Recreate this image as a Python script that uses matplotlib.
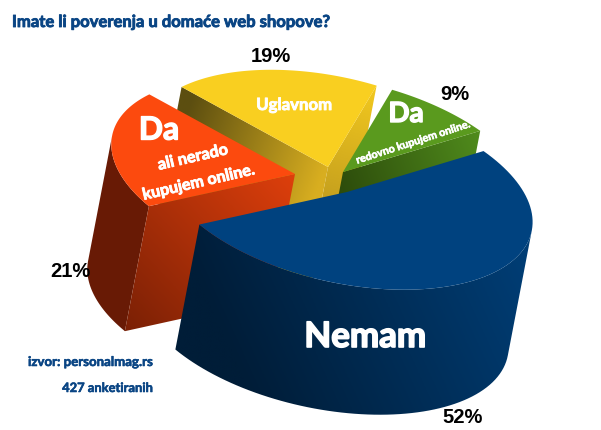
import numpy as np
import matplotlib
matplotlib.use("Agg")
import matplotlib.pyplot as plt
import matplotlib.patheffects as pe
from matplotlib.colors import LinearSegmentedColormap
from matplotlib.patches import Polygon

title = "Imate li poverenja u domaće web shopove?"
slice_names = ["Da, redovno", "Uglavnom", "Da, ali nerado", "Nemam"]
slice_values = [9, 19, 21, 52]
source_lines = ["izvor: personalmag.rs", "427 anketiranih"]

NARROW = ["Lato", "DejaVu Sans"]
W, H = 601, 431
fig = plt.figure(figsize=(W / 100, H / 100), dpi=100)
ax = fig.add_axes([0, 0, 1, 1])
ax.set_xlim(0, W)
ax.set_ylim(H, 0)
ax.axis("off")

A = np.array([140.0, -42.0])
B = np.array([-129.0, -91.0])
D = np.array([-24.0, 125.0])
cum = np.concatenate([[0], np.cumsum(slice_values)]) / sum(slice_values) * 2 * np.pi


def rim(apex, r, t0, t1, n=90):
    t = np.linspace(t0, t1, n)
    return np.array(apex) + r * (np.outer(np.cos(t), A) + np.outer(np.sin(t), B))


def grad(poly, p0, p1, c0, c1, z):
    poly = np.asarray(poly)
    x0, y0 = poly.min(axis=0) - 2
    x1, y1 = poly.max(axis=0) + 2
    xs, ys = np.meshgrid(np.linspace(x0, x1, 200), np.linspace(y0, y1, 200))
    p0 = np.array(p0, float)
    d = np.array(p1, float) - p0
    g = ((xs - p0[0]) * d[0] + (ys - p0[1]) * d[1]) / (d @ d)
    cmap = LinearSegmentedColormap.from_list("g", [c0, c1])
    im = ax.imshow(np.clip(g, 0, 1), extent=(x0, x1, y1, y0), cmap=cmap, vmin=0, vmax=1,
                   zorder=z, aspect="auto", interpolation="bilinear")
    clip = Polygon(poly, closed=True, transform=ax.transData)
    im.set_clip_path(clip)
    ax.set_xlim(0, W)
    ax.set_ylim(H, 0)


# yellow
ya, yr = (328, 168), 0.97
arc = rim(ya, yr, cum[1], cum[2])
c_r = arc[0]
c_l = arc[-1]
grad([ya, c_r, c_r + D, np.array(ya) + D], (377, 83), (330, 240), "#f4ca1e", "#b8941e", 1)
grad([ya, c_l, c_l + D, np.array(ya) + D], (180, 130), (320, 180), "#5c4e10", "#d8ae20", 2)
ax.add_patch(Polygon(np.vstack([[ya], arc]), fc="#f9cf20", ec="none", zorder=3))

# green
ga, gr = (343, 173), 0.98
arc = rim(ga, gr, cum[0], cum[1])
c_r = arc[0]
grad([ga, c_r, c_r + D * 0.4, np.array(ga) + D * 0.4], (335, 190), (478, 135), "#2c4a0b", "#4f8a1c", 4)
ax.add_patch(Polygon(np.vstack([[ga], arc]), fc="#5a9a1e", ec="none", zorder=5))

# orange
oa, ort = (295, 175), 0.965
arc = rim(oa, ort, cum[2], cum[3])
c_l = arc[-1]
side = (arc[:, 0] * D[1] - arc[:, 1] * D[0])
i = int(np.argmin(side))
ax.add_patch(Polygon(np.vstack([arc[i:], (arc[i:] + D)[::-1]]), fc="#681a05", ec="none", zorder=6))
grad([oa, c_l, c_l + D, np.array(oa) + D], (125, 333), (293, 175), "#7a2005", "#de3f0c", 7)
ax.add_patch(Polygon(np.vstack([[oa], arc]), fc="#fc4a0e", ec="none", zorder=8))

# blue
ba, br = (347, 193), 0.975
arc = rim(ba, br, cum[3], cum[4])
side = (arc[:, 0] * D[1] - arc[:, 1] * D[0])
i = int(np.argmax(side))
wall = np.vstack([arc[:i + 1], (arc[:i + 1] + D)[::-1]])
grad(wall, (230, 350), (525, 215), "#001d38", "#003f78", 9)
ax.add_patch(Polygon(np.vstack([[ba], arc]), fc="#00427f", ec="none", zorder=10))

# text
renderer = fig.canvas.get_renderer()


def fitted(x, y, s, width, rotation=0, stroke=0.6, **kw):
    t = ax.text(x, y, s, fontsize=10, family=NARROW, fontweight="bold", zorder=20, **kw)
    w = t.get_window_extent(renderer).width
    t.set_fontsize(10 * width / w)
    t.set_rotation(rotation)
    t.set_rotation_mode("anchor")
    t.set_path_effects([pe.withStroke(linewidth=stroke, foreground=kw["color"])])
    return t


navy = "#0a4584"
fitted(12, 23, title, 319, color=navy, va="center", ha="left")
fitted(28, 363, source_lines[0], 125, color=navy, va="center", ha="left", stroke=0.4)
fitted(153, 389, source_lines[1], 91, color=navy, va="center", ha="right", stroke=0.4)

pct_pos = [(455, 95), (271, 56), (70, 272), (463, 418)]
for v, (x, y) in zip(slice_values, pct_pos):
    ax.text(x, y, f"{v}%", color="black", family="Liberation Sans", fontsize=14.5, fontweight="bold",
            ha="center", va="center", zorder=20)

white = dict(color="white", ha="center", va="center")
fitted(294, 106, "Uglavnom", 76, **white)
fitted(159, 131, "Da", 40, stroke=1, **white)
fitted(193, 159, "ali nerado", 72, rotation=13, **white)
fitted(199, 184, "kupujem online.", 115, rotation=13, **white)
fitted(406, 115, "Da", 35, stroke=1, **white)
fitted(413, 143, "redovno kupujem online.", 120, rotation=18, stroke=0.4, **white)
fitted(365, 338, "Nemam", 122, stroke=1.2, **white)

fig.savefig("out.png", dpi=100)
